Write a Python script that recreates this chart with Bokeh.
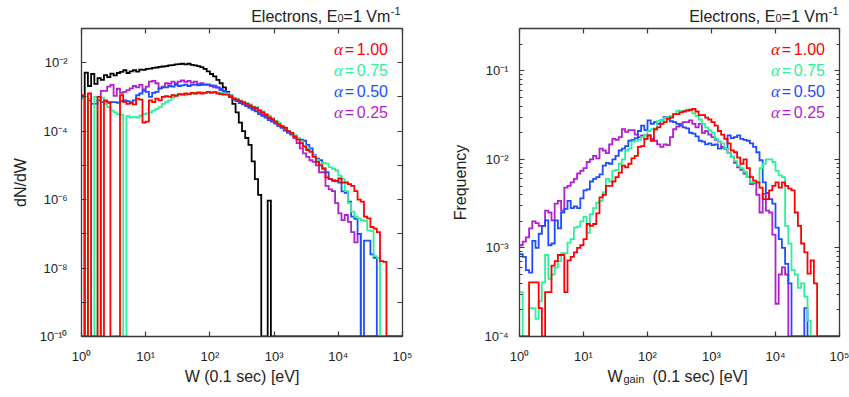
import numpy as np
from bokeh.plotting import figure
from bokeh.layouts import row, column
from bokeh.models import Range1d, FixedTicker, LogAxis, Label, CustomJSTickFormatter
from bokeh.embed import file_html
from bokeh.resources import INLINE

# ---------------- data (log10 of bin height; None = empty bin) ----------------
# 100 logarithmic bins of 0.05 decade each between 10^0 and 10^5 eV
BIN_DECADES = 0.05
N_BINS = 100

left_black = [None, -2.29, -2.68, -2.33, -2.62, -2.45, -2.5, -2.36, -2.42, -2.32,
              -2.37, -2.3, -2.27, -2.22, -2.3, -2.25, -2.22, -2.26, -2.2, -2.21,
              -2.18, -2.17, -2.15, -2.14, -2.12, -2.11, -2.1, -2.08, -2.07, -2.05,
              -2.04, -2.03, -2.05, -2.03, -2.06, -2.08, -2.1, -2.13, -2.18, -2.25,
              -2.33, -2.4, -2.5, -2.6, -2.72, -2.85, -3.0, -3.2, -3.45, -3.75,
              -4.0, -4.2, -4.4, -4.88, -5.4, -5.86, None, None, -6.03, None] + [None] * 40

left_purple = [-3.02, None, None, None, None, None, -2.82, -2.82, -2.7, -2.65,
               -2.97, -2.76, -2.88, -2.85, -2.8, -2.75, -2.68, -2.72, -2.65, -2.78,
               -2.7, -2.55, -2.53, -2.6, -2.75, -2.7, -2.6, -2.62, -2.55, -2.6,
               -2.55, -2.52, -2.56, -2.53, -2.58, -2.55, -2.62, -2.6, -2.64, -2.63,
               -2.68, -2.72, -2.73, -2.8, -2.85, -2.88, -2.95, -3.05, -3.1, -3.15,
               -3.2, -3.25, -3.28, -3.33, -3.4, -3.45, -3.5, -3.55, -3.62, -3.68,
               -3.75, -3.8, -3.88, -3.95, -4.05, -4.1, -4.2, -4.35, -4.5, -4.65,
               -4.75, -4.85, -4.9, -5.0, -5.2, -5.2, -5.6, -5.7, -5.75, -6.1,
               -6.4, -6.6, -6.45, -6.65, -6.95, -7.25, -7.0, None, None, None] + [None] * 10

left_blue = [-3.05, None, -3.1, -3.2, -3.2, -3.1, -3.15, -3.12, -3.18, -3.15,
             -3.15, -3.17, -3.12, -3.1, -3.12, -3.15, -3.1, -2.95, -2.9, -2.82,
             -2.85, -3.0, -2.88, -2.85, -2.75, -2.72, -2.72, -2.68, -2.7, -2.65,
             -2.68, -2.66, -2.64, -2.68, -2.65, -2.64, -2.66, -2.65, -2.64, -2.65,
             -2.66, -2.67, -2.72, -2.76, -2.82, -2.9, -3.0, -3.08, -3.12, -3.18,
             -3.22, -3.27, -3.32, -3.38, -3.42, -3.5, -3.55, -3.6, -3.68, -3.72,
             -3.78, -3.85, -3.9, -3.98, -4.02, -4.08, -4.15, -4.22, -4.25, -4.28,
             -4.4, -4.5, -4.7, -4.8, -4.85, -5.08, -5.2, -5.4, -5.45, -5.47,
             -5.5, -5.76, -5.8, -6.06, -6.5, -6.56, -7.0, None, -7.2, -7.2,
             -7.6, -7.7, None, None, None, None, None, None, None, None]

left_green = [-3.05, None, -3.05, None, -3.0, None, -3.02, -3.2, -3.3, -3.4,
              -3.45, -3.5, -3.52, None, -3.56, -3.6, -3.58, -3.6, -3.55, -3.5,
              -3.48, -3.45, -3.4, -3.35, -3.3, -3.2, -3.15, -3.1, -3.02, -2.95,
              -2.93, -2.92, -2.95, -2.92, -2.9, -2.9, -2.88, -2.87, -2.88, -2.86,
              -2.85, -2.85, -2.87, -2.88, -2.9, -2.9, -2.95, -3.02, -3.05, -3.1,
              -3.15, -3.18, -3.22, -3.28, -3.3, -3.38, -3.42, -3.5, -3.55, -3.62,
              -3.7, -3.75, -3.85, -3.92, -4.0, -4.05, -4.12, -4.2, -4.3, -4.42,
              -4.5, -4.62, -4.72, -4.85, -4.95, -4.93, -4.95, -5.05, -5.1, -5.15,
              -5.3, -5.4, -5.75, -6.1, -6.35, -6.5, -6.55, -6.6, -6.62, -6.9,
              -6.92, -7.65, -7.7, None, None, None, None, None, None, None]

left_red = [-2.95, None, -2.9, None, None, -3.0, None, -3.1, -3.15, None,
            None, None, -2.95, -3.15, -3.2, -3.18, -3.22, -3.05, -3.08, -3.75,
            -3.72, -3.1, -3.15, -3.05, -3.1, -3.0, -2.98, -3.0, -2.95, -2.97,
            -2.92, -2.93, -2.9, -2.92, -2.88, -2.9, -2.87, -2.9, -2.88, -2.85,
            -2.88, -2.86, -2.9, -2.92, -2.93, -2.93, -2.98, -3.05, -3.08, -3.12,
            -3.15, -3.2, -3.25, -3.3, -3.33, -3.4, -3.45, -3.52, -3.6, -3.65,
            -3.72, -3.8, -3.85, -3.9, -4.0, -4.05, -4.15, -4.25, -4.35, -4.45,
            -4.55, -4.6, -4.75, -4.9, -5.0, -5.1, -5.35, -5.4, -5.43, -5.45,
            -5.38, -5.5, -5.5, -5.55, -5.6, -5.75, -6.0, -6.06, -6.5, -6.55,
            -6.8, -6.85, -6.95, -7.8, -7.82, None, None, None, None, None]

right_purple = [-2.97, -2.93, -2.88, -2.78, -2.7, -2.72, -2.75, -2.75, -2.58, -2.6,
                -2.69, -2.5, -2.47, -2.58, -2.32, -2.3, -2.26, -2.22, -2.16, -2.13,
                -2.1, -2.03, -2.0, -1.96, -1.99, -1.88, -1.9, -1.93, -1.83, -1.77,
                -1.78, -1.75, -1.66, -1.69, -1.67, -1.67, -1.72, -1.75, -1.73, -1.77,
                -1.73, -1.77, -1.79, -1.83, -1.86, -1.83, -1.84, -1.75, -1.66, -1.63,
                -1.6, -1.58, -1.58, -1.56, -1.6, -1.64, -1.6, -1.7, -1.68, -1.72,
                -1.75, -1.78, -1.8, -1.86, -1.88, -1.93, -1.97, -2.04, -2.09, -2.12,
                -2.16, -2.2, -2.28, -2.27, -2.4, -2.6, -2.39, -2.58, -2.6, -2.85,
                -3.63, -3.3, -3.22, -3.3, None, None, None, None, None, None] + [None] * 10

right_blue = [-3.07, -3.1, -3.25, -3.28, -2.92, -3.0, -2.84, -2.75, -2.69, -2.97,
              -2.95, -2.69, -2.78, -2.6, -2.56, -2.47, -2.55, -2.53, -2.55, -2.44,
              -2.35, -2.34, -2.25, -2.22, -2.2, -2.17, -2.07, -2.04, -2.05, -2.0,
              -1.96, -1.9, -1.88, -1.85, -1.79, -1.78, -1.76, -1.68, -1.62, -1.67,
              -1.56, -1.6, -1.58, -1.6, -1.56, -1.52, -1.54, -1.57, -1.58, -1.6,
              -1.62, -1.64, -1.65, -1.7, -1.71, -1.74, -1.79, -1.8, -1.83, -1.82,
              -1.84, -1.83, -1.88, -1.87, -1.88, -1.73, -1.76, -1.75, -1.73, -1.77,
              -1.78, -1.79, -1.82, -1.86, -1.92, -2.01, -2.26, -2.38, -2.45, -2.5,
              -2.77, -2.9, -3.0, -3.18, -3.4, None, None, None, None, -3.68] + [None] * 10

right_green = [-3.5, None, None, -3.68, -3.68, -3.8, -3.6, -3.39, -3.08, -3.35,
               -3.3, -3.22, -3.15, -3.06, -3.06, -2.94, -2.9, -2.77, -2.76, -2.7,
               -2.65, -2.83, -2.62, -2.55, -2.49, -2.47, -2.37, -2.22, -2.25, -2.13,
               -2.12, -2.05, -2.0, -1.9, -1.88, -1.8, -1.79, -1.78, -1.75, -1.72,
               -1.68, -1.66, -1.65, -1.57, -1.56, -1.53, -1.52, -1.51, -1.49, -1.45,
               -1.46, -1.45, -1.44, -1.45, -1.48, -1.51, -1.55, -1.6, -1.64, -1.67,
               -1.7, -1.77, -1.8, -1.82, -1.88, -1.93, -1.97, -2.02, -2.07, -2.1,
               -2.14, -2.2, -2.26, -2.26, -2.26, -2.1, -2.05, -2.0, -2.0, -2.03,
               -2.13, -2.18, -2.2, -2.75, -2.95, -3.25, -3.3, -3.45, -3.4, -3.55,
               -3.82, None, None, None, None, None, None, None, None, None]

right_red = [None, None, None, -3.39, -3.39, -3.39, -3.68, None, -3.5, -3.5,
             -3.2, -3.15, -3.08, -3.08, -3.5, -3.14, -3.1, -3.05, -3.0, -2.97,
             -2.9, -2.73, -2.75, -2.73, -2.61, -2.43, -2.4, -2.3, -2.3, -2.25,
             -2.2, -2.15, -2.07, -2.09, -2.05, -1.99, -1.96, -1.86, -1.85, -1.77,
             -1.73, -1.79, -1.66, -1.64, -1.6, -1.58, -1.54, -1.53, -1.49, -1.49,
             -1.47, -1.46, -1.45, -1.44, -1.43, -1.46, -1.5, -1.5, -1.53, -1.55,
             -1.58, -1.62, -1.68, -1.72, -1.77, -1.82, -1.9, -1.92, -1.98, -2.05,
             -2.0, -2.1, -2.2, -2.24, -2.26, -2.32, -2.45, -2.45, -2.35, -2.3,
             -2.26, -2.32, -2.26, -2.3, -2.33, -2.35, -2.6, -2.75, -2.95, -3.05,
             -3.29, -3.14, -3.4, None, None, None, None, None, None, None]

alpha_labels = ["1.00", "0.75", "0.50", "0.25"]
x_tick_exps = [0, 1, 2, 3, 4, 5]
left_y_tick_exps = [-10, -9, -8, -7, -6, -5, -4, -3, -2, -1]
right_y_tick_exps = [-4, -3, -2, -1]
right_minor_mults = [2, 3, 4, 5, 6, 7, 8, 9]
title_parts = ["Electrons, E", "0", "=1 Vm", "-1"]

# ---------------- styles ----------------
RED, GREEN, BLUE, PURPLE, BLACK = "#ff0000", "#2ef09a", "#1e4dff", "#b21fd0", "#000000"
FONT = "Liberation Sans"
TXT = "#222222"
AXC = "#3a3a3a"
ARIAL_W = {'-': 0.333, '=': 0.584, ' ': 0.278, ',': 0.278, '.': 0.278, 'l': 0.222,
           'c': 0.5, 's': 0.5, 't': 0.278, 'r': 0.333,
           'E': 0.667, 'V': 0.667, 'W': 0.944, 'm': 0.833}
LIFT = 4.5   # correction of the rendered text baseline (px, upward)

TOP_H, MAIN_H, BOT_H = 24, 344, 29

SUP_JS = r"""
const sup = {"0":"\u2070","1":"\u00b9","2":"\u00b2","3":"\u00b3","4":"\u2074",
             "5":"\u2075","6":"\u2076","7":"\u2077","8":"\u2078","9":"\u2079","-":"\u207b"};
const e = Math.round(Math.log10(tick));
if (skip_odd && (Math.abs(e) % 2 === 1)) { return ""; }
let s = "10";
for (const c of String(e)) { s += sup[c]; }
return s;
"""


def text_w(s, size):
    return sum(ARIAL_W.get(c, 0.556) for c in s) * size


def step_xy(logvals, floor):
    edges = 10.0 ** (np.arange(N_BINS + 1) * BIN_DECADES)
    ys = np.array([floor if v is None else max(10.0 ** v, floor) for v in logvals])
    return np.repeat(edges, 2)[1:-1], np.repeat(ys, 2)


def lab(p, x, y, text, size, xo=0.0, yo=0.0, align="left", baseline="alphabetic",
        color=TXT, font=FONT, style="normal"):
    p.add_layout(Label(x=x, y=y, text=text, x_offset=xo, y_offset=yo + LIFT,
                       text_align=align, text_baseline=baseline, text_color=color,
                       text_font=font, text_font_size=f"{size}px",
                       text_font_style=style))


def strip(width, height):
    s = figure(width=width, height=height, x_range=Range1d(0, width), y_range=Range1d(0, height),
               output_backend="svg", toolbar_location=None, x_axis_location=None,
               y_axis_location=None, min_border_left=0, min_border_right=0,
               min_border_top=0, min_border_bottom=0)
    s.grid.visible = False
    s.outline_line_color = None
    return s


def make_panel(width, bl, br, y0, y1, yt, ym, skip_odd, ylab_standoff, series,
               ylabel, ylabel_standoff):
    p = figure(width=width, height=MAIN_H, x_axis_type="log", y_axis_type="log",
               x_range=Range1d(1, 1e5), y_range=Range1d(y0, y1),
               output_backend="svg", toolbar_location=None,
               min_border_left=bl, min_border_right=br, min_border_top=4, min_border_bottom=32)
    p.grid.visible = False
    p.outline_line_color = None
    p.add_layout(LogAxis(), "above")
    p.add_layout(LogAxis(), "right")
    for ax in p.xaxis:
        ax.ticker = FixedTicker(ticks=[10.0 ** e for e in x_tick_exps], minor_ticks=[])
    for ax in p.yaxis:
        ax.ticker = FixedTicker(ticks=yt, minor_ticks=ym)
    for ax in p.axis:
        ax.major_tick_in = 5
        ax.major_tick_out = 0
        ax.minor_tick_in = 3
        ax.minor_tick_out = 0
        ax.axis_line_color = AXC
        ax.axis_line_width = 1.3
        ax.major_tick_line_color = AXC
        ax.major_tick_line_width = 1.2
        ax.minor_tick_line_color = AXC
        ax.minor_tick_line_width = 1.0
        ax.major_label_text_font = FONT
        ax.major_label_text_color = TXT
        ax.major_label_text_font_size = "13px"
    for ax in (p.above[0], p.right[0]):
        ax.formatter = CustomJSTickFormatter(code="return '';")
        ax.major_label_standoff = 0
        ax.major_label_text_font_size = "0px"
    bottom, left = p.below[0], p.left[0]
    bottom.formatter = CustomJSTickFormatter(code=SUP_JS, args=dict(skip_odd=False))
    bottom.major_label_standoff = 12
    left.formatter = CustomJSTickFormatter(code=SUP_JS, args=dict(skip_odd=skip_odd))
    left.major_label_standoff = ylab_standoff
    left.axis_label = ylabel
    left.axis_label_text_font = FONT
    left.axis_label_text_font_style = "normal"
    left.axis_label_text_font_size = "16px"
    left.axis_label_text_color = TXT
    left.axis_label_standoff = ylabel_standoff

    for vals, col in series:
        xs, ys = step_xy(vals, y0)
        p.line(xs, ys, line_color=col, line_width=1.8, line_join="miter")

    # legend
    cols = [RED, GREEN, BLUE, PURPLE]
    for k, (txt, col) in enumerate(zip(alpha_labels, cols)):
        yo = -(25.3 + 21.0 * k)
        lab(p, 1e5, y1, "\u03b1", 17, xo=-59.5, yo=yo, align="right", color=col,
            font="Liberation Serif", style="italic")
        lab(p, 1e5, y1, "=", 16, xo=-53, yo=yo, align="center", color=col)
        lab(p, 1e5, y1, txt, 16, xo=-14.5, yo=yo, align="right", color=col)
    return p


def make_title(width, right_x):
    t = strip(width, TOP_H)
    base = TOP_H - 20.7
    sizes = [16, 11, 16, 11]
    shifts = [0.0, -1.6, 0.0, 5.7]
    r = right_x
    for txt, sz, sh in reversed(list(zip(title_parts, sizes, shifts))):
        lab(t, r, base + sh, txt, sz, align="right", color=TXT)
        r -= text_w(txt, sz) + (0.5 if txt == "-1" else 0.0)
    return t


p1 = make_panel(430, 81, 28, 1e-10, 1e-1,
                [10.0 ** e for e in left_y_tick_exps], [], True, 14,
                [(left_black, BLACK), (left_purple, PURPLE), (left_blue, BLUE),
                 (left_green, GREEN), (left_red, RED)],
                "dN/dW", 8)

right_minor = [m * 10.0 ** e for e in right_y_tick_exps for m in right_minor_mults]
p2 = make_panel(419, 89, 10, 1e-4, 0.3,
                [10.0 ** e for e in right_y_tick_exps], right_minor, False, 11,
                [(right_purple, PURPLE), (right_blue, BLUE),
                 (right_green, GREEN), (right_red, RED)],
                "Frequency", 12)

t1 = make_title(430, 400)
t2 = make_title(419, 408)

b1 = strip(430, BOT_H)
lab(b1, 241.5, BOT_H - 12, "W (0.1 sec) [eV]", 16, align="center")
b2 = strip(419, BOT_H)
lab(b2, 192, BOT_H - 12, "W", 16, align="right")
lab(b2, 193, BOT_H - 15, "gain", 11, align="left")
lab(b2, 222, BOT_H - 12, "(0.1 sec) [eV]", 16, align="left")

layout = column(row(t1, t2), row(p1, p2), row(b1, b2))
with open("out.html", "w", encoding="utf-8") as f:
    f.write(file_html(layout, INLINE))
